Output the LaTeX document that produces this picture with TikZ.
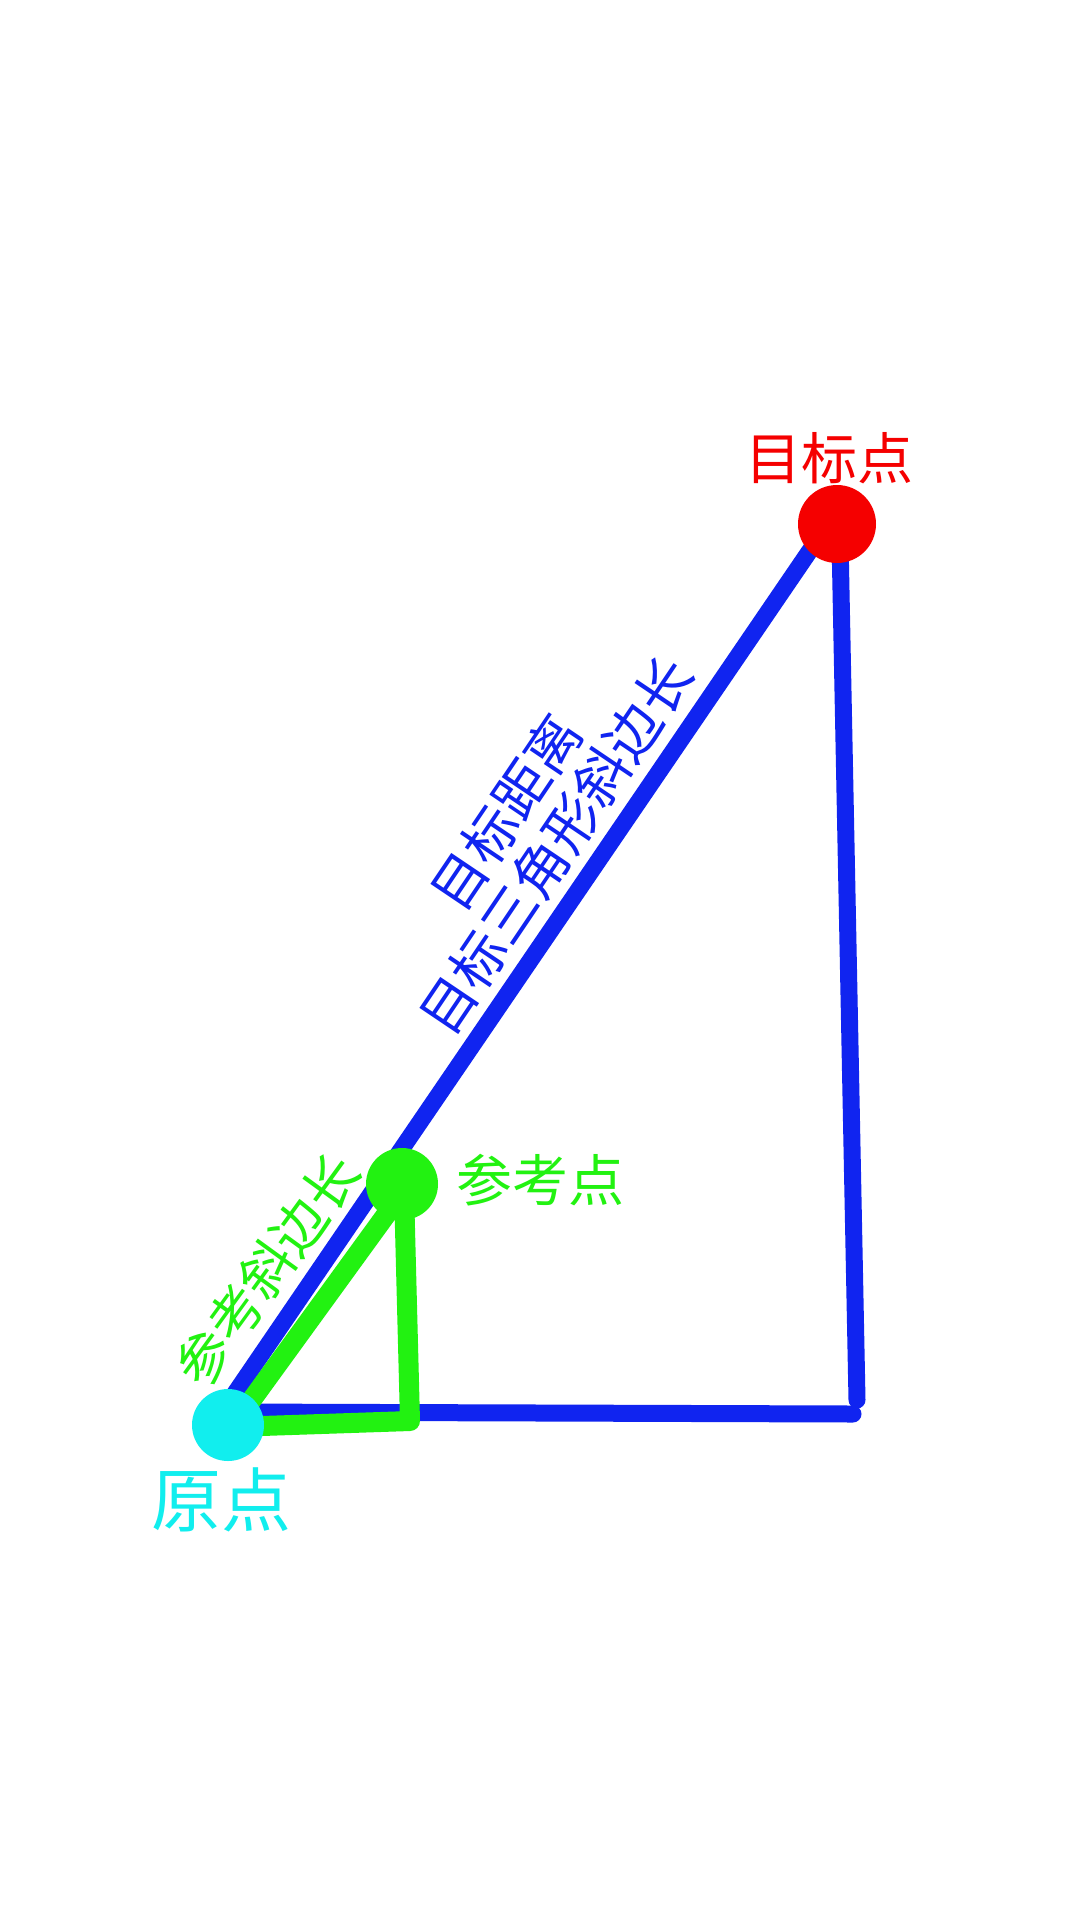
\documentclass[tikz,border=0pt]{standalone}
\usepackage{fontspec}
\newfontfamily\cjk{Noto Sans CJK SC}
\definecolor{bluln}{RGB}{16,36,240}
\definecolor{grnln}{RGB}{34,242,17}
\definecolor{cyanpt}{RGB}{17,238,238}
\definecolor{redpt}{RGB}{245,0,0}
\def\fs#1{\fontsize{#1}{#1}\selectfont}

\begin{document}
\begin{tikzpicture}[x=1pt,y=-1pt,
    bluline/.style={draw=bluln,line width=17pt,line cap=round},
    grnline/.style={draw=grnln,line width=20pt,line cap=round,line join=round},
    dot/.style={circle,inner sep=0pt,minimum size=#1},
    lbl/.style={inner sep=0pt,font=\cjk}]
\useasboundingbox (0,0) rectangle (1080,1920);
\fill[white] (0,0) rectangle (1080,1920);

% big triangle
\coordinate (bo) at (214,1424);
\coordinate (bt) at (826,527);
\coordinate (vt) at (840,540);
\coordinate (vb) at (857,1400);
\coordinate (hl) at (230,1412);
\coordinate (hr) at (853,1414);
\draw[bluline] (bo) -- (bt);
\draw[bluline] (vt) -- (vb);
\draw[bluline] (hl) -- (hr);

% small triangle
\coordinate (go) at (232,1427);
\coordinate (gt) at (404,1190);
\coordinate (gc) at (410,1421);
\draw[grnline] (go) -- (gt) -- (gc) -- cycle;

\node[dot=72,fill=cyanpt] (yuan) at (228,1425) {};
\node[dot=72,fill=grnln] (cankao) at (402,1184) {};
\node[dot=78,fill=redpt] (mubiao) at (837,524) {};

\node[lbl,text=redpt,font=\cjk\fs{56}] (mbl) at (829,458) {目标点};
\node[lbl,text=grnln,font=\cjk\fs{56}] (ckl) at (540,1180) {参考点};
\node[lbl,text=cyanpt,font=\cjk\fs{70}] (ydl) at (221,1500) {原点};
\node[lbl,text=grnln,font=\cjk\fs{54},rotate=54] (ckx) at (267,1270) {参考斜边长};
\node[lbl,text=bluln,align=center,rotate=56,font=\cjk\fontsize{55}{60}\selectfont] (mbx) at (531,829) {目标距离\\目标三角形斜边长};

\end{tikzpicture}
\end{document}
